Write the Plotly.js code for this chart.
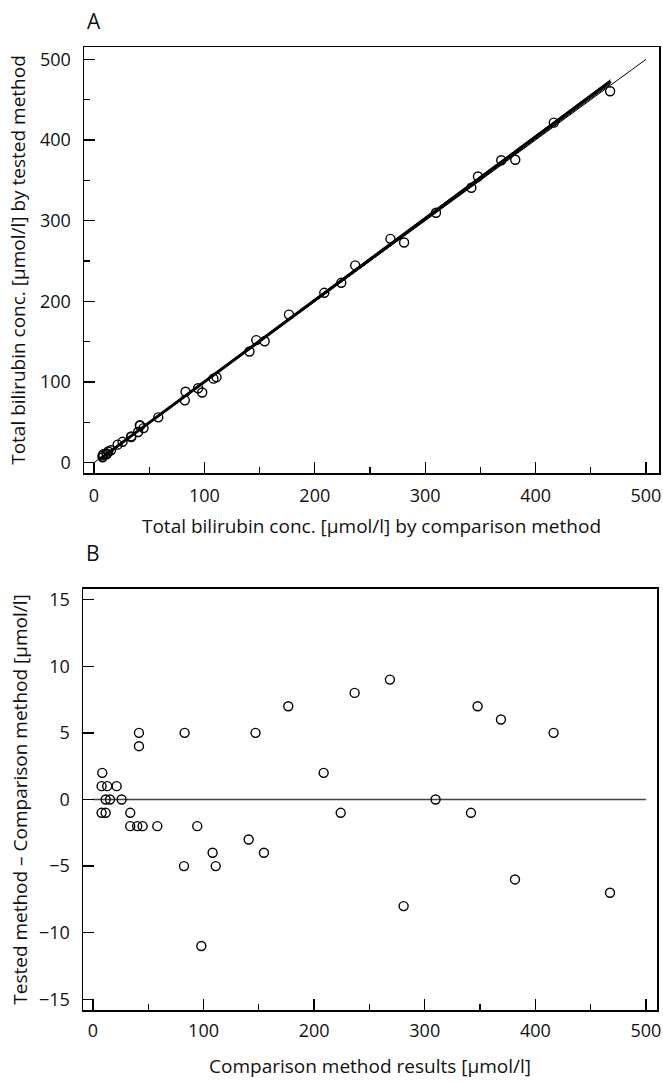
<!DOCTYPE html>
<html>
<head>
<meta charset="utf-8">
<script src="https://cdn.plot.ly/plotly-3.0.1.min.js"></script>
<style>html,body{margin:0;padding:0;background:#fff;}#chart{width:663px;height:1083px;}</style>
</head>
<body>
<div id="chart"></div>
<script>
// Comparison method results [µmol/l]
const comparison = [8.4, 7.8, 12.9, 21.4, 11.5, 15.4, 25.9, 7.8, 11.5, 33.7,
  33.7, 40, 44.9, 58.2, 94.3, 41.6, 41.6, 82.9, 82.3, 108.2, 111, 98,
  140.8, 147, 154.6, 176.6, 208.6, 224, 236.6, 268.5, 280.9, 309.8,
  341.8, 347.8, 368.9, 381.6, 416.5, 467.5];
// Tested − comparison difference [µmol/l]
const difference = [2, 1, 1, 1, 0, 0, 0, -1, -1, -1,
  -2, -2, -2, -2, -2, 5, 4, 5, -5, -4, -5, -11,
  -3, 5, -4, 7, 2, -1, 8, 9, -8, 0,
  -1, 7, 6, -6, 5, -7];
const tested = comparison.map((c, i) => c + difference[i]);

// Lines in panel A
const identityX = [0, 500];
const identityY = [0, 500];
const regX = [5, 468];
const regY = [4.1, 472.6];
const ciUpperX = [5, 468];
const ciUpperY = [4.6, 474.8];
const ciLowerX = [5, 468];
const ciLowerY = [3.6, 469.5];
// Zero line in panel B
const zeroX = [0, 500];
const zeroY = [0, 0];

const ticksX = [0, 100, 200, 300, 400, 500];
const ticksYA = [0, 100, 200, 300, 400, 500];
const ticksYB = [-15, -10, -5, 0, 5, 10, 15];
const ticksYBText = ['\u221215', '\u221210', '\u22125', '0', '5', '10', '15'];

const FONT = 'Open Sans, Lato, sans-serif';
const marker = {symbol: 'circle-open', size: 9, color: '#000', line: {width: 1.4, color: '#000'}};

const traces = [
  {x: identityX, y: identityY, mode: 'lines', line: {color: '#000', width: 1}, xaxis: 'x', yaxis: 'y', hoverinfo: 'skip'},
  {x: ciUpperX, y: ciUpperY, mode: 'lines', line: {color: '#000', width: 1}, xaxis: 'x', yaxis: 'y', hoverinfo: 'skip'},
  {x: ciLowerX, y: ciLowerY, mode: 'lines', line: {color: '#000', width: 1}, xaxis: 'x', yaxis: 'y', hoverinfo: 'skip'},
  {x: regX, y: regY, mode: 'lines', line: {color: '#000', width: 3}, xaxis: 'x', yaxis: 'y', hoverinfo: 'skip'},
  {x: comparison, y: tested, mode: 'markers', marker: marker, xaxis: 'x', yaxis: 'y', cliponaxis: false},
  {x: zeroX, y: zeroY, mode: 'lines', line: {color: '#444', width: 1.4}, xaxis: 'x2', yaxis: 'y2', hoverinfo: 'skip'},
  {x: comparison, y: difference, mode: 'markers', marker: marker, xaxis: 'x2', yaxis: 'y2'}
];

const axisCommon = {
  showline: true, linecolor: '#000', linewidth: 1.5, mirror: true,
  showgrid: false, zeroline: false,
  ticks: 'inside', ticklen: 11, tickwidth: 1.3, tickcolor: '#000',
  ticklabeloverflow: 'allow',
  tickfont: {family: FONT, size: 18, color: '#111'},
  minor: {ticks: 'inside', ticklen: 6, tickwidth: 1.2, tickcolor: '#000', dtick: 50}
};
const titleFont = {family: FONT, size: 19, color: '#111'};

const layout = {
  width: 663, height: 1083,
  margin: {l: 83, r: 4, t: 47, b: 73},
  paper_bgcolor: '#fff', plot_bgcolor: '#fff',
  showlegend: false,
  font: {family: FONT, color: '#111'},
  xaxis: Object.assign({}, axisCommon, {
    domain: [1/576, 1], range: [-9.06, 511.8], anchor: 'y',
    tickvals: ticksX, ticktext: ticksX.map(String),
    ticklabelstandoff: 6,
    title: {text: 'Total bilirubin conc. [µmol/l] by comparison method', font: titleFont, standoff: 13}
  }),
  yaxis: Object.assign({}, axisCommon, {
    domain: [0.5576, 1], range: [-12.8, 515.3], anchor: 'x',
    tickvals: ticksYA, ticktext: ticksYA.map(String),
    ticklabelstandoff: 8,
    title: {text: 'Total bilirubin conc. [µmol/l] by tested method', font: titleFont, standoff: 9}
  }),
  xaxis2: Object.assign({}, axisCommon, {
    domain: [0, 574/576], range: [-9.0, 510.0], anchor: 'y2',
    tickvals: ticksX, ticktext: ticksX.map(String),
    ticklabelstandoff: 4,
    title: {text: 'Comparison method results [µmol/l]', font: titleFont, standoff: 18}
  }),
  yaxis2: Object.assign({}, axisCommon, {
    domain: [0, 0.4372], range: [-15.8, 15.8], anchor: 'x2',
    tickvals: ticksYB, ticktext: ticksYBText,
    minor: {ticks: '', dtick: 5},
    ticklabelstandoff: 8,
    title: {text: 'Tested method \u2013 Comparison method [µmol/l]', font: titleFont, standoff: 6}
  }),
  annotations: [
    {text: 'A', xref: 'paper', yref: 'paper', x: 0.019, y: 1.027, showarrow: false, xanchor: 'center', yanchor: 'middle', font: {family: FONT, size: 21, color: '#111'}},
    {text: 'B', xref: 'paper', yref: 'paper', x: 0.0174, y: 0.4746, showarrow: false, xanchor: 'center', yanchor: 'middle', font: {family: FONT, size: 21, color: '#111'}}
  ]
};

Plotly.newPlot('chart', traces, layout, {displayModeBar: false, staticPlot: true});
</script>
</body>
</html>
